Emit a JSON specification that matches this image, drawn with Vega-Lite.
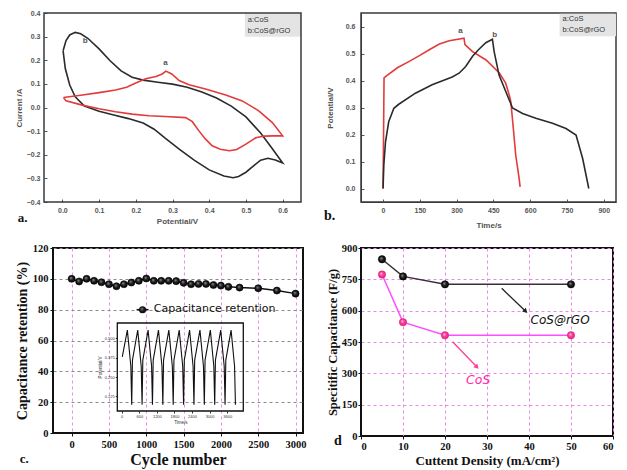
{
"$schema":"https://vega.github.io/schema/vega-lite/v6.json",
"background":"white",
"padding":{"left":14,"top":9,"right":3,"bottom":0},
"config":{"axis":{"grid":false,"labelOverlap":false,"tickCount":30},"view":{"stroke":"#111"}},
"datasets":{
"cv":[
{"s":"CoS@rGO","i":1,"v":0.002,"c":0.24},{"s":"CoS@rGO","i":2,"v":0.01,"c":0.283},{"s":"CoS@rGO","i":3,"v":0.02,"c":0.307},{"s":"CoS@rGO","i":4,"v":0.035,"c":0.318},{"s":"CoS@rGO","i":5,"v":0.05,"c":0.312},{"s":"CoS@rGO","i":6,"v":0.07,"c":0.292},{"s":"CoS@rGO","i":7,"v":0.1,"c":0.248},{"s":"CoS@rGO","i":8,"v":0.13,"c":0.198},{"s":"CoS@rGO","i":9,"v":0.16,"c":0.155},{"s":"CoS@rGO","i":10,"v":0.19,"c":0.128},{"s":"CoS@rGO","i":11,"v":0.22,"c":0.116},{"s":"CoS@rGO","i":12,"v":0.26,"c":0.107},{"s":"CoS@rGO","i":13,"v":0.3,"c":0.099},{"s":"CoS@rGO","i":14,"v":0.34,"c":0.086},{"s":"CoS@rGO","i":15,"v":0.38,"c":0.066},{"s":"CoS@rGO","i":16,"v":0.42,"c":0.04},{"s":"CoS@rGO","i":17,"v":0.46,"c":0.006},{"s":"CoS@rGO","i":18,"v":0.5,"c":-0.04},{"s":"CoS@rGO","i":19,"v":0.54,"c":-0.108},{"s":"CoS@rGO","i":20,"v":0.57,"c":-0.17},{"s":"CoS@rGO","i":21,"v":0.6,"c":-0.235},{"s":"CoS@rGO","i":22,"v":0.58,"c":-0.222},{"s":"CoS@rGO","i":23,"v":0.56,"c":-0.215},{"s":"CoS@rGO","i":24,"v":0.54,"c":-0.223},{"s":"CoS@rGO","i":25,"v":0.52,"c":-0.248},{"s":"CoS@rGO","i":26,"v":0.5,"c":-0.274},{"s":"CoS@rGO","i":27,"v":0.48,"c":-0.292},{"s":"CoS@rGO","i":28,"v":0.465,"c":-0.297},{"s":"CoS@rGO","i":29,"v":0.44,"c":-0.29},{"s":"CoS@rGO","i":30,"v":0.4,"c":-0.264},{"s":"CoS@rGO","i":31,"v":0.36,"c":-0.224},{"s":"CoS@rGO","i":32,"v":0.32,"c":-0.178},{"s":"CoS@rGO","i":33,"v":0.28,"c":-0.13},{"s":"CoS@rGO","i":34,"v":0.25,"c":-0.092},{"s":"CoS@rGO","i":35,"v":0.22,"c":-0.066},{"s":"CoS@rGO","i":36,"v":0.18,"c":-0.047},{"s":"CoS@rGO","i":37,"v":0.14,"c":-0.032},{"s":"CoS@rGO","i":38,"v":0.1,"c":-0.016},{"s":"CoS@rGO","i":39,"v":0.06,"c":0.006},{"s":"CoS@rGO","i":40,"v":0.035,"c":0.045},{"s":"CoS@rGO","i":41,"v":0.02,"c":0.095},{"s":"CoS@rGO","i":42,"v":0.008,"c":0.165},{"s":"CoS@rGO","i":43,"v":0.002,"c":0.24},
{"s":"CoS","i":1,"v":0.003,"c":0.042},{"s":"CoS","i":2,"v":0.05,"c":0.052},{"s":"CoS","i":3,"v":0.1,"c":0.063},{"s":"CoS","i":4,"v":0.145,"c":0.074},{"s":"CoS","i":5,"v":0.175,"c":0.086},{"s":"CoS","i":6,"v":0.2,"c":0.104},{"s":"CoS","i":7,"v":0.227,"c":0.122},{"s":"CoS","i":8,"v":0.255,"c":0.131},{"s":"CoS","i":9,"v":0.272,"c":0.142},{"s":"CoS","i":10,"v":0.282,"c":0.154},{"s":"CoS","i":11,"v":0.298,"c":0.142},{"s":"CoS","i":12,"v":0.318,"c":0.114},{"s":"CoS","i":13,"v":0.345,"c":0.096},{"s":"CoS","i":14,"v":0.39,"c":0.078},{"s":"CoS","i":15,"v":0.445,"c":0.053},{"s":"CoS","i":16,"v":0.49,"c":0.028},{"s":"CoS","i":17,"v":0.535,"c":-0.014},{"s":"CoS","i":18,"v":0.572,"c":-0.064},{"s":"CoS","i":19,"v":0.6,"c":-0.12},{"s":"CoS","i":20,"v":0.575,"c":-0.12},{"s":"CoS","i":21,"v":0.55,"c":-0.121},{"s":"CoS","i":22,"v":0.527,"c":-0.128},{"s":"CoS","i":23,"v":0.5,"c":-0.155},{"s":"CoS","i":24,"v":0.475,"c":-0.178},{"s":"CoS","i":25,"v":0.455,"c":-0.183},{"s":"CoS","i":26,"v":0.43,"c":-0.177},{"s":"CoS","i":27,"v":0.408,"c":-0.162},{"s":"CoS","i":28,"v":0.39,"c":-0.134},{"s":"CoS","i":29,"v":0.372,"c":-0.099},{"s":"CoS","i":30,"v":0.354,"c":-0.06},{"s":"CoS","i":31,"v":0.336,"c":-0.043},{"s":"CoS","i":32,"v":0.28,"c":-0.038},{"s":"CoS","i":33,"v":0.236,"c":-0.035},{"s":"CoS","i":34,"v":0.19,"c":-0.028},{"s":"CoS","i":35,"v":0.145,"c":-0.018},{"s":"CoS","i":36,"v":0.1,"c":-0.005},{"s":"CoS","i":37,"v":0.054,"c":0.01},{"s":"CoS","i":38,"v":0.01,"c":0.028},{"s":"CoS","i":39,"v":0.003,"c":0.042}
],
"gcd":[
{"s":"CoS","t":0,"p":0},{"s":"CoS","t":2,"p":0.2},{"s":"CoS","t":4,"p":0.41},{"s":"CoS","t":15,"p":0.418},{"s":"CoS","t":60,"p":0.448},{"s":"CoS","t":105,"p":0.47},{"s":"CoS","t":150,"p":0.493},{"s":"CoS","t":190,"p":0.515},{"s":"CoS","t":230,"p":0.535},{"s":"CoS","t":270,"p":0.547},{"s":"CoS","t":330,"p":0.557},{"s":"CoS","t":334,"p":0.533},{"s":"CoS","t":365,"p":0.507},{"s":"CoS","t":420,"p":0.476},{"s":"CoS","t":475,"p":0.427},{"s":"CoS","t":500,"p":0.39},{"s":"CoS","t":515,"p":0.345},{"s":"CoS","t":521,"p":0.322},{"s":"CoS","t":530,"p":0.235},{"s":"CoS","t":541,"p":0.124},{"s":"CoS","t":555,"p":0.037},{"s":"CoS","t":559,"p":0.006},
{"s":"CoS@rGO","t":0,"p":0},{"s":"CoS@rGO","t":3,"p":0.087},{"s":"CoS@rGO","t":10,"p":0.173},{"s":"CoS@rGO","t":23,"p":0.247},{"s":"CoS@rGO","t":44,"p":0.297},{"s":"CoS@rGO","t":64,"p":0.312},{"s":"CoS@rGO","t":132,"p":0.353},{"s":"CoS@rGO","t":200,"p":0.384},{"s":"CoS@rGO","t":282,"p":0.413},{"s":"CoS@rGO","t":310,"p":0.427},{"s":"CoS@rGO","t":337,"p":0.452},{"s":"CoS@rGO","t":365,"p":0.49},{"s":"CoS@rGO","t":390,"p":0.515},{"s":"CoS@rGO","t":419,"p":0.54},{"s":"CoS@rGO","t":446,"p":0.553},{"s":"CoS@rGO","t":453,"p":0.507},{"s":"CoS@rGO","t":473,"p":0.42},{"s":"CoS@rGO","t":500,"p":0.36},{"s":"CoS@rGO","t":528,"p":0.298},{"s":"CoS@rGO","t":569,"p":0.278},{"s":"CoS@rGO","t":623,"p":0.26},{"s":"CoS@rGO","t":691,"p":0.242},{"s":"CoS@rGO","t":746,"p":0.222},{"s":"CoS@rGO","t":787,"p":0.198},{"s":"CoS@rGO","t":814,"p":0.111},{"s":"CoS@rGO","t":839,"p":0}
],
"ret":[
{"n":0,"r":100},{"n":100,"r":98.3},{"n":200,"r":100},{"n":300,"r":98.7},{"n":400,"r":97.8},{"n":500,"r":96.5},{"n":600,"r":95.2},{"n":700,"r":96.5},{"n":800,"r":97.6},{"n":900,"r":98.7},{"n":1000,"r":100.2},{"n":1100,"r":98.7},{"n":1200,"r":98.7},{"n":1300,"r":98.7},{"n":1400,"r":98.5},{"n":1500,"r":97.4},{"n":1600,"r":96.5},{"n":1700,"r":96.7},{"n":1800,"r":96.7},{"n":1900,"r":96},{"n":2000,"r":95.6},{"n":2100,"r":94.8},{"n":2250,"r":94.3},{"n":2500,"r":93.9},{"n":2750,"r":92.4},{"n":3000,"r":90.4}
],
"ins":[
{"t":20,"p":0.38},{"t":193,"p":0.554},{"t":312,"p":0.32},{"t":342,"p":0.071},{"t":367,"p":0.36},
{"t":547,"p":0.554},{"t":666,"p":0.32},{"t":696,"p":0.071},{"t":721,"p":0.36},
{"t":901,"p":0.554},{"t":1020,"p":0.32},{"t":1050,"p":0.071},{"t":1075,"p":0.36},
{"t":1255,"p":0.554},{"t":1374,"p":0.32},{"t":1404,"p":0.071},{"t":1429,"p":0.36},
{"t":1609,"p":0.554},{"t":1728,"p":0.32},{"t":1758,"p":0.071},{"t":1783,"p":0.36},
{"t":1963,"p":0.554},{"t":2082,"p":0.32},{"t":2112,"p":0.071},{"t":2137,"p":0.36},
{"t":2317,"p":0.554},{"t":2436,"p":0.32},{"t":2466,"p":0.071},{"t":2491,"p":0.36},
{"t":2671,"p":0.554},{"t":2790,"p":0.32},{"t":2820,"p":0.071},{"t":2845,"p":0.36},
{"t":3025,"p":0.554},{"t":3144,"p":0.32},{"t":3174,"p":0.071},{"t":3199,"p":0.36},
{"t":3379,"p":0.554},{"t":3498,"p":0.32},{"t":3528,"p":0.071},{"t":3553,"p":0.36},
{"t":3733,"p":0.554},{"t":3852,"p":0.32},{"t":3882,"p":0.071}
],
"sc":[
{"s":"CoS@rGO","j":5,"c":846},{"s":"CoS@rGO","j":10,"c":764},{"s":"CoS@rGO","j":20,"c":726},{"s":"CoS@rGO","j":50,"c":726},
{"s":"CoS","j":5,"c":773},{"s":"CoS","j":10,"c":545},{"s":"CoS","j":20,"c":482},{"s":"CoS","j":50,"c":482}
]
},
"columns":2,
"align":"all",
"bounds":"flush",
"spacing":{"row":46,"column":53},
"concat":[
{"width":248,"height":189,"view":{"stroke":null},
"layer":[
{"data":{"values":[{}]},"mark":{"type":"rect","fill":"#e4e4e4"},"encoding":{"x":{"datum":0.497},"x2":{"datum":0.65},"y":{"datum":0.397},"y2":{"datum":0.3}}},
{"data":{"name":"cv"},"mark":{"type":"line","strokeWidth":1.6},
"encoding":{
"x":{"field":"v","type":"quantitative","scale":{"domain":[-0.0255,0.65],"nice":false,"zero":false},
"axis":{"values":[0,0.1,0.2,0.3,0.4,0.5,0.6],"tickCount":30,"format":".1f","title":"Potential/V","domain":false,"labelFont":"Liberation Sans","labelFontSize":7,"labelFontWeight":"bold","labelColor":"#555","titleFont":"Liberation Sans","titleFontSize":8,"titleFontWeight":"bold","titleColor":"#555","tickColor":"#555","tickSize":-3,"labelPadding":7,"titlePadding":4}},
"y":{"field":"c","type":"quantitative","scale":{"domain":[-0.4,0.4],"nice":false},
"axis":{"values":[-0.4,-0.3,-0.2,-0.1,0,0.1,0.2,0.3,0.4],"tickCount":30,"format":".1f","title":"Current /A","domain":false,"offset":9,"labelFont":"Liberation Sans","labelFontSize":7,"labelFontWeight":"bold","labelColor":"#555","titleFont":"Liberation Sans","titleFontSize":8,"titleFontWeight":"bold","titleColor":"#555","tickColor":"#555","tickSize":-3,"labelPadding":7,"titlePadding":3}},
"order":{"field":"i","type":"quantitative"},
"color":{"field":"s","type":"nominal","scale":{"domain":["CoS","CoS@rGO"],"range":["#e23b3b","#2b2b2b"]},"legend":null}}},
{"data":{"values":[{}]},"mark":{"type":"rect","filled":false,"stroke":"#3a3a3a","strokeWidth":1.5},"encoding":{"x":{"datum":-0.05},"x2":{"datum":0.65},"y":{"datum":-0.4},"y2":{"datum":0.4}}},
{"data":{"values":[{}]},"mark":{"type":"text","text":"a:CoS","align":"left","baseline":"middle","font":"Liberation Sans","fontSize":7.5,"color":"#333"},"encoding":{"x":{"datum":0.505},"y":{"datum":0.372}}},
{"data":{"values":[{}]},"mark":{"type":"text","text":"b:CoS@rGO","align":"left","baseline":"middle","font":"Liberation Sans","fontSize":7.5,"color":"#333"},"encoding":{"x":{"datum":0.505},"y":{"datum":0.325}}},
{"data":{"values":[{}]},"mark":{"type":"text","text":"a","font":"Liberation Sans","fontWeight":"bold","fontSize":8,"color":"#555"},"encoding":{"x":{"datum":0.281},"y":{"datum":0.19}}},
{"data":{"values":[{}]},"mark":{"type":"text","text":"b","font":"Liberation Sans","fontWeight":"bold","fontSize":8,"color":"#555"},"encoding":{"x":{"datum":0.062},"y":{"datum":0.283}}},
{"data":{"values":[{}]},"mark":{"type":"text","text":"a.","font":"Liberation Serif","fontWeight":"bold","fontSize":13,"color":"#111"},"encoding":{"x":{"datum":-0.108},"y":{"datum":-0.467}}}
]},
{"width":255,"height":189,"view":{"stroke":"#3a3a3a","strokeWidth":1.5},
"layer":[
{"data":{"values":[{}]},"mark":{"type":"rect","fill":"#e4e4e4"},"encoding":{"x":{"datum":720},"x2":{"datum":950},"y":{"datum":0.647},"y2":{"datum":0.564}}},
{"data":{"name":"gcd"},"mark":{"type":"line","strokeWidth":1.6},
"encoding":{
"x":{"field":"t","type":"quantitative","scale":{"domain":[-90,950],"nice":false,"zero":false},
"axis":{"values":[0,150,300,450,600,750,900],"tickCount":30,"format":"d","title":"Time/s","labelFont":"Liberation Sans","labelFontSize":7,"labelFontWeight":"bold","labelColor":"#555","titleFont":"Liberation Sans","titleFontSize":8,"titleFontWeight":"bold","titleColor":"#555","tickColor":"#555","domainColor":"#3a3a3a","tickSize":-3,"labelPadding":7,"titlePadding":8}},
"y":{"field":"p","type":"quantitative","scale":{"domain":[-0.05,0.65],"nice":false,"zero":false},
"axis":{"values":[0,0.1,0.2,0.3,0.4,0.5,0.6],"tickCount":30,"format":".1f","title":"Potential/V","labelFont":"Liberation Sans","labelFontSize":7,"labelFontWeight":"bold","labelColor":"#555","titleFont":"Liberation Sans","titleFontSize":8,"titleFontWeight":"bold","titleColor":"#555","tickColor":"#555","domainColor":"#3a3a3a","tickSize":-3,"labelPadding":9,"titlePadding":11}},
"order":{"field":"t","type":"quantitative"},
"color":{"field":"s","type":"nominal","scale":{"domain":["CoS","CoS@rGO"],"range":["#2b2b2b","#e23b3b"]},"legend":null}}},
{"data":{"values":[{}]},"mark":{"type":"text","text":"a:CoS","align":"left","baseline":"middle","font":"Liberation Sans","fontSize":7.5,"color":"#333"},"encoding":{"x":{"datum":732},"y":{"datum":0.627}}},
{"data":{"values":[{}]},"mark":{"type":"text","text":"b:CoS@rGO","align":"left","baseline":"middle","font":"Liberation Sans","fontSize":7.5,"color":"#333"},"encoding":{"x":{"datum":732},"y":{"datum":0.587}}},
{"data":{"values":[{}]},"mark":{"type":"text","text":"a","font":"Liberation Sans","fontWeight":"bold","fontSize":8,"color":"#555"},"encoding":{"x":{"datum":316},"y":{"datum":0.582}}},
{"data":{"values":[{}]},"mark":{"type":"text","text":"b","font":"Liberation Sans","fontWeight":"bold","fontSize":8,"color":"#555"},"encoding":{"x":{"datum":455},"y":{"datum":0.567}}},
{"data":{"values":[{}]},"mark":{"type":"text","text":"b.","font":"Liberation Serif","fontWeight":"bold","fontSize":14,"color":"#111"},"encoding":{"x":{"datum":-218},"y":{"datum":-0.102}}}
]},
{"width":250,"height":185,"view":{"stroke":"#111","strokeWidth":2},
"layer":[
{"layer":[
{"data":{"name":"ret"},"mark":{"type":"line","color":"#111","strokeWidth":1.5},
"encoding":{
"x":{"field":"n","type":"quantitative","scale":{"domain":[-250,3100],"nice":false,"zero":false},
"axis":{"values":[0,500,1000,1500,2000,2500,3000],"tickCount":30,"format":"d","title":"Cycle number","grid":true,"gridColor":"#ee8cee","gridDash":[3,3],"gridWidth":1,"labelFont":"Liberation Serif","labelFontSize":10.5,"labelFontWeight":"bold","labelColor":"#111","titleFont":"Liberation Serif","titleFontSize":16,"titleFontWeight":"bold","titleColor":"#111","tickColor":"#111","domainColor":"#111","tickSize":3,"labelPadding":3,"titlePadding":2}},
"y":{"field":"r","type":"quantitative","scale":{"domain":[0,120],"nice":false},
"axis":{"values":[0,20,40,60,80,100,120],"tickCount":30,"title":"Capacitance retention (%)","grid":true,"gridColor":"#8a8a8a","gridDash":[3,3],"gridWidth":1,"labelFont":"Liberation Serif","labelFontSize":10.5,"labelFontWeight":"bold","labelColor":"#111","titleFont":"Liberation Serif","titleFontSize":14,"titleFontWeight":"bold","titleColor":"#111","tickColor":"#111","domainColor":"#111","tickSize":3,"labelPadding":2,"titlePadding":3}}}},
{"data":{"name":"ret"},"mark":{"type":"point","shape":"circle","filled":true,"size":50,"stroke":"#000","strokeWidth":0.6,"opacity":1,"color":{"gradient":"radial","x1":0.38,"y1":0.35,"r1":0,"x2":0.5,"y2":0.5,"r2":0.55,"stops":[{"offset":0,"color":"#9a9a9a"},{"offset":0.45,"color":"#222"},{"offset":1,"color":"#000"}]}},
"encoding":{"x":{"field":"n","type":"quantitative"},"y":{"field":"r","type":"quantitative"}}},
{"data":{"values":[{}]},"mark":{"type":"rule","color":"#111","strokeWidth":1.5},"encoding":{"x":{"datum":870},"x2":{"datum":1030},"y":{"datum":80}}},
{"data":{"values":[{}]},"mark":{"type":"point","shape":"circle","filled":true,"size":50,"opacity":1,"color":{"gradient":"radial","x1":0.38,"y1":0.35,"r1":0,"x2":0.5,"y2":0.5,"r2":0.55,"stops":[{"offset":0,"color":"#9a9a9a"},{"offset":0.45,"color":"#222"},{"offset":1,"color":"#000"}]}},"encoding":{"x":{"datum":950},"y":{"datum":80}}},
{"data":{"values":[{}]},"mark":{"type":"text","text":"Capacitance retention","align":"left","baseline":"middle","font":"DejaVu Sans","fontSize":11,"color":"#111"},"encoding":{"x":{"datum":1100},"y":{"datum":80.5}}},
{"data":{"values":[{}]},"mark":{"type":"text","text":"c.","font":"Liberation Serif","fontWeight":"bold","fontSize":13,"color":"#111"},"encoding":{"x":{"datum":-636},"y":{"datum":-17}}}
]},
{"layer":[
{"data":{"name":"ins"},"mark":{"type":"line","color":"#111","strokeWidth":1.1},
"encoding":{
"x":{"field":"t","type":"quantitative","scale":{"domain":[-150,4150],"range":[64.3,190.3],"nice":false,"zero":false},
"axis":{"orient":"bottom","offset":-22,"values":[0,600,1200,1800,2400,3000,3600],"tickCount":30,"format":"d","title":"Time/s","grid":false,"domain":false,"labelFont":"Liberation Sans","labelFontSize":4,"labelColor":"#333","titleFont":"Liberation Sans","titleFontSize":4.5,"titleFontWeight":"normal","titleColor":"#333","tickColor":"#333","tickSize":2,"labelPadding":1,"titlePadding":1}},
"y":{"field":"p","type":"quantitative","scale":{"domain":[0.03,0.6],"range":[163,75],"nice":false,"zero":false},
"axis":{"orient":"left","offset":-64.3,"values":[0.125,0.25,0.375,0.5],"tickCount":30,"format":".3f","title":"Potential/V","grid":false,"domain":false,"labelFont":"Liberation Sans","labelFontSize":4,"labelColor":"#333","titleFont":"Liberation Sans","titleFontSize":4.5,"titleFontWeight":"normal","titleColor":"#333","tickColor":"#333","tickSize":2,"labelPadding":1,"titlePadding":2}}}},
{"data":{"values":[{}]},"mark":{"type":"rect","filled":false,"stroke":"#111","strokeWidth":1.3},"encoding":{"x":{"datum":-150},"x2":{"datum":4150},"y":{"datum":0.03},"y2":{"datum":0.6}}}
]}
],
"resolve":{"scale":{"x":"independent","y":"independent"},"axis":{"x":"independent","y":"independent"}}},
{"width":252,"height":188,"view":{"stroke":"#111","strokeWidth":2},
"layer":[
{"data":{"name":"sc"},"transform":[{"filter":"datum.s == 'CoS@rGO'"}],"mark":{"type":"line","color":"#333","strokeWidth":1.5},
"encoding":{
"x":{"field":"j","type":"quantitative","scale":{"domain":[0,60],"nice":false},
"axis":{"values":[0,10,20,30,40,50,60],"tickCount":30,"title":"Cuttent Density (mA/cm²)","grid":true,"gridColor":"#e58ae5","gridDash":[3,3],"gridWidth":1,"labelFont":"Liberation Serif","labelFontSize":10.5,"labelFontWeight":"bold","labelColor":"#111","titleFont":"Liberation Serif","titleFontSize":13,"titleFontWeight":"bold","titleColor":"#111","tickColor":"#111","domainColor":"#111","tickSize":3,"labelPadding":2,"titlePadding":3}},
"y":{"field":"c","type":"quantitative","scale":{"domain":[0,900],"nice":false},
"axis":{"values":[0,150,300,450,600,750,900],"tickCount":30,"title":"Specitific Capacitance (F/g)","grid":true,"gridColor":"#e58ae5","gridDash":[3,3],"gridWidth":1,"labelFont":"Liberation Serif","labelFontSize":10.5,"labelFontWeight":"bold","labelColor":"#111","titleFont":"Liberation Serif","titleFontSize":12.5,"titleFontWeight":"bold","titleColor":"#111","tickColor":"#111","domainColor":"#111","tickSize":3,"labelPadding":1,"titlePadding":2}}}},
{"data":{"name":"sc"},"transform":[{"filter":"datum.s == 'CoS'"}],"mark":{"type":"line","color":"#ff4dff","strokeWidth":1.5},
"encoding":{"x":{"field":"j","type":"quantitative"},"y":{"field":"c","type":"quantitative"}}},
{"data":{"name":"sc"},"transform":[{"filter":"datum.s == 'CoS@rGO'"}],"mark":{"type":"point","shape":"circle","filled":true,"size":55,"opacity":1,"stroke":"#000","strokeWidth":0.5,"color":{"gradient":"radial","x1":0.38,"y1":0.35,"r1":0,"x2":0.5,"y2":0.5,"r2":0.55,"stops":[{"offset":0,"color":"#9a9a9a"},{"offset":0.45,"color":"#222"},{"offset":1,"color":"#000"}]}},
"encoding":{"x":{"field":"j","type":"quantitative"},"y":{"field":"c","type":"quantitative"}}},
{"data":{"name":"sc"},"transform":[{"filter":"datum.s == 'CoS'"}],"mark":{"type":"point","shape":"circle","filled":true,"stroke":"#d81f7a","strokeWidth":0.5,"size":55,"opacity":1,"color":{"gradient":"radial","x1":0.38,"y1":0.35,"r1":0,"x2":0.5,"y2":0.5,"r2":0.55,"stops":[{"offset":0,"color":"#ffd0e8"},{"offset":0.45,"color":"#ff3d9a"},{"offset":1,"color":"#e0207a"}]}},
"encoding":{"x":{"field":"j","type":"quantitative"},"y":{"field":"c","type":"quantitative"}}},
{"data":{"values":[{}]},"mark":{"type":"rule","color":"#222","strokeWidth":1.3},"encoding":{"x":{"datum":33.5},"x2":{"datum":39.2},"y":{"datum":707},"y2":{"datum":597}}},
{"data":{"values":[{}]},"mark":{"type":"point","shape":"triangle-up","filled":true,"color":"#222","size":30,"angle":134,"opacity":1},"encoding":{"x":{"datum":39.2},"y":{"datum":597}}},
{"data":{"values":[{}]},"mark":{"type":"rule","color":"#ff3d9a","strokeWidth":1.3},"encoding":{"x":{"datum":21.8},"x2":{"datum":27.6},"y":{"datum":451},"y2":{"datum":330}}},
{"data":{"values":[{}]},"mark":{"type":"point","shape":"triangle-up","filled":true,"color":"#ff3d9a","size":30,"angle":136,"opacity":1},"encoding":{"x":{"datum":27.6},"y":{"datum":330}}},
{"data":{"values":[{}]},"mark":{"type":"text","text":"CoS@rGO","font":"DejaVu Sans","fontStyle":"italic","fontSize":12,"color":"#111"},"encoding":{"x":{"datum":47.4},"y":{"datum":557}}},
{"data":{"values":[{}]},"mark":{"type":"text","text":"CoS","font":"DejaVu Sans","fontStyle":"italic","fontSize":12.5,"color":"#ff2aa8"},"encoding":{"x":{"datum":27.9},"y":{"datum":268}}},
{"data":{"values":[{}]},"mark":{"type":"text","text":"d","font":"Liberation Serif","fontWeight":"bold","fontSize":14,"color":"#111"},"encoding":{"x":{"datum":-5.5},"y":{"datum":-24}}}
]}
]
}
